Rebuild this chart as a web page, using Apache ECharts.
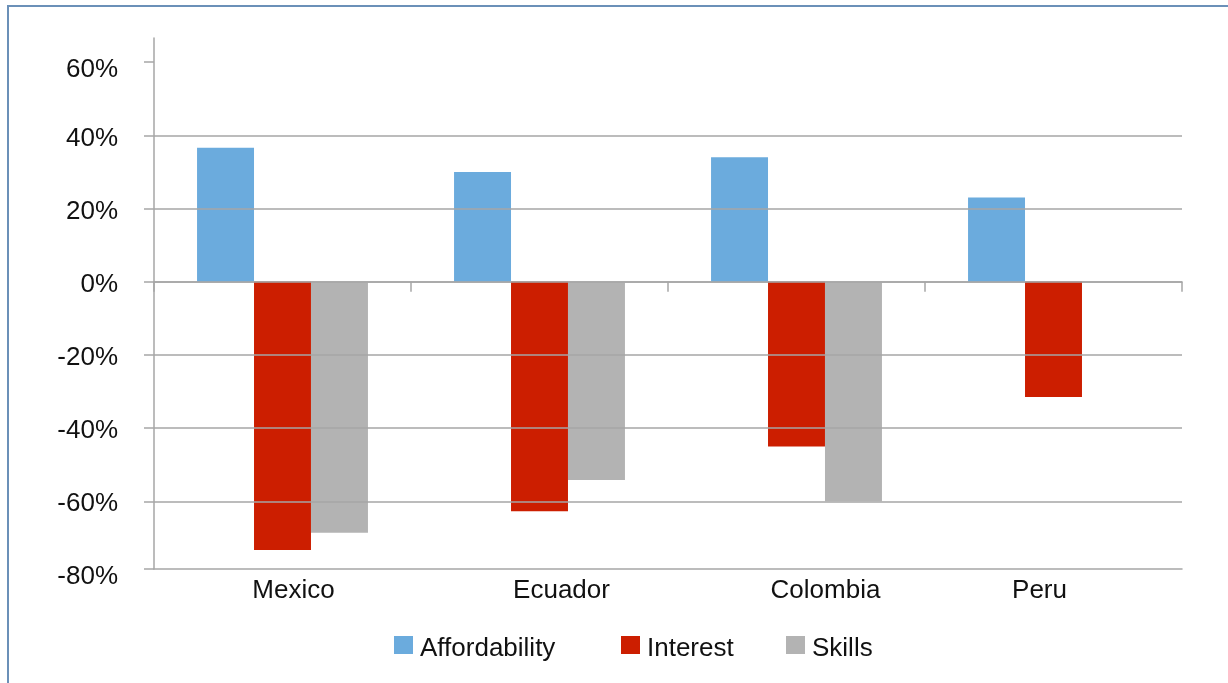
<!DOCTYPE html>
<html>
<head>
<meta charset="utf-8">
<script src="https://cdn.jsdelivr.net/npm/echarts@6/dist/echarts.min.js"></script>
<style>
  html, body { margin: 0; padding: 0; background: #fff; overflow: hidden; }
  #frame {
    position: absolute; left: 7px; top: 5px; width: 1400px; height: 900px;
    border-left: 2px solid #6b90b8; border-top: 2px solid #6b90b8;
  }
  #chart { position: absolute; left: 0; top: 0; width: 1228px; height: 683px; }
</style>
</head>
<body>
<div id="frame"></div>
<div id="chart"></div>
<script>
// Survey results by country (percent)
const countries = ['Mexico', 'Ecuador', 'Colombia', 'Peru'];
const affordability = [36.6, 30, 34, 23];
const interest = [-73.3, -62.7, -45, -31.5];
const skills = [-68.6, -54.2, -60, null];

// Value axis: bounds, ticks and their labels
const yMin = -78.5;
const yMax = 66.6;
const tickValues = [60, 40, 20, 0, -20, -40, -60, -78.5];
const tickLabels = ['60%', '40%', '20%', '0%', '-20%', '-40%', '-60%', '-80%'];
const gridValues = [40, 20, 0, -20, -40, -60];

const FONT = 'Liberation Sans, Arial, sans-serif';
const AXIS_GRAY = '#a6a6a6';
const TEXT = '#111';
const colors = { Affordability: '#6babdd', Interest: '#cc1e00', Skills: '#b3b3b3' };

// horizontal nudge of each category name (padding left / right, px)
const categoryLabelPad = [[22, 0], [44, 0], [58, 0], [0, 28]];

function nearestTick(v) {
  let best = 0;
  tickValues.forEach((t, i) => { if (Math.abs(t - v) < Math.abs(tickValues[best] - v)) best = i; });
  return best;
}

function yLabel(v) {
  const i = nearestTick(v);
  const edge = (i === 0 || i === tickValues.length - 1);
  return '{' + (edge ? 'edge' : 'mid') + '|' + tickLabels[i] + '}';
}

const catRich = {};
categoryLabelPad.forEach((p, i) => {
  catRich['c' + i] = { fontFamily: FONT, fontSize: 26, color: TEXT, padding: [0, p[1], 0, p[0]] };
});

function legendAt(name, left) {
  return {
    data: [name], left: left, top: 636, orient: 'horizontal', padding: 0,
    icon: 'rect', itemWidth: 19, itemHeight: 18,
    selectedMode: false,
    formatter: n => '{t|' + n + '}',
    textStyle: {
      fontFamily: FONT, fontSize: 26, color: TEXT,
      rich: { t: { fontFamily: FONT, fontSize: 26, color: TEXT, padding: [8, 0, 0, 2] } }
    }
  };
}

const chart = echarts.init(document.getElementById('chart'), null, { renderer: 'canvas' });
chart.setOption({
  animation: false,
  backgroundColor: 'transparent',
  grid: { left: 154, right: 46, top: 38, bottom: 114, containLabel: false },
  legend: [
    legendAt('Affordability', 394),
    legendAt('Interest', 621),
    legendAt('Skills', 786)
  ],
  xAxis: [
    {
      // category axis crossing at zero, with boundary ticks
      type: 'category', data: countries, position: 'bottom',
      axisLine: { show: true, onZero: true, lineStyle: { color: AXIS_GRAY, width: 1.5 } },
      axisTick: { show: true, length: 10, lineStyle: { color: AXIS_GRAY, width: 1.5 } },
      axisLabel: { show: false },
      splitLine: { show: false }
    },
    {
      // bottom edge carrying the category names
      type: 'category', data: countries, position: 'bottom',
      axisLine: { show: true, onZero: false, lineStyle: { color: AXIS_GRAY, width: 1.5 } },
      axisTick: { show: false },
      axisLabel: {
        show: true, margin: 9, fontFamily: FONT, fontSize: 26, color: TEXT,
        formatter: (v, i) => '{c' + i + '|' + v + '}',
        rich: catRich
      },
      splitLine: { show: false }
    }
  ],
  yAxis: {
    type: 'value', min: yMin, max: yMax,
    axisLine: { show: true, lineStyle: { color: AXIS_GRAY, width: 1.5 } },
    axisTick: { show: true, length: 10, customValues: tickValues, lineStyle: { color: AXIS_GRAY, width: 1.5 } },
    axisLabel: {
      show: true, customValues: tickValues, margin: 36,
      fontFamily: FONT, fontSize: 26, color: TEXT,
      formatter: yLabel,
      rich: {
        mid: { fontFamily: FONT, fontSize: 26, color: TEXT, padding: [6, 0, 0, 0] },
        edge: { fontFamily: FONT, fontSize: 26, color: TEXT, padding: [16, 0, 0, 0] }
      }
    },
    splitLine: { show: false }
  },
  series: [
    {
      name: 'Affordability', type: 'bar', data: affordability,
      barGap: '0%', barCategoryGap: '33.5%', z: 2,
      itemStyle: { color: colors.Affordability },
      markLine: {
        silent: true, symbol: ['none', 'none'], z: 5,
        label: { show: false },
        emphasis: { disabled: true },
        lineStyle: { color: AXIS_GRAY, type: 'solid', width: 1.5 },
        data: gridValues.map(v => ({ yAxis: v }))
      }
    },
    {
      name: 'Interest', type: 'bar', data: interest,
      barGap: '0%', barCategoryGap: '33.5%', z: 2,
      itemStyle: { color: colors.Interest }
    },
    {
      name: 'Skills', type: 'bar', data: skills,
      barGap: '0%', barCategoryGap: '33.5%', z: 2,
      itemStyle: { color: colors.Skills }
    }
  ]
});
</script>
</body>
</html>
